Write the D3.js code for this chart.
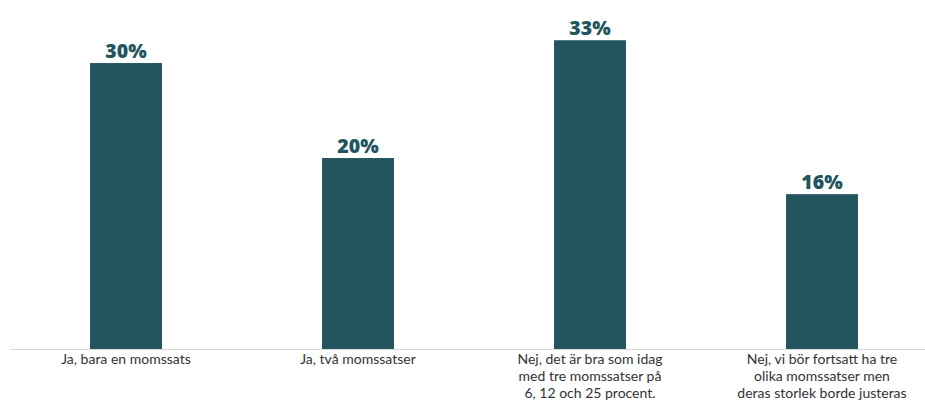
<!DOCTYPE html>
<html lang="sv">
<head>
<meta charset="UTF-8">
<title>Momssatser</title>
<style>
  body { margin: 0; background: #fff; }
  svg { display: block; }
</style>
</head>
<body>
<div id="chart"></div>
<script src="https://d3js.org/d3.v7.min.js"></script>
<script>
// data (labels as printed)
const categories = [
  ["Ja, bara en momssats"],
  ["Ja, två momssatser"],
  ["Nej, det är bra som idag", "med tre momssatser på", "6, 12 och 25 procent."],
  ["Nej, vi bör fortsatt ha tre", "olika momssatser men", "deras storlek borde justeras"]
];
const values = [30.1, 20.1, 32.5, 16.3];
const valueLabels = ["30%", "20%", "33%", "16%"];

const width = 925, height = 403;
const baseY = 349;

const svg = d3.select("#chart").append("svg")
  .attr("width", width)
  .attr("height", height);

const x = d3.scaleBand()
  .domain(d3.range(values.length))
  .range([10, 938])
  .paddingInner(0.69)
  .paddingOuter(0.345);

const y = d3.scaleLinear()
  .domain([0, 35])
  .range([baseY, 16.5]);

// baseline
svg.append("line")
  .attr("x1", 10).attr("x2", width)
  .attr("y1", baseY + 0.5).attr("y2", baseY + 0.5)
  .attr("stroke", "#d9d9d9")
  .attr("stroke-width", 1);

svg.selectAll("rect.bar")
  .data(values)
  .join("rect")
  .attr("class", "bar")
  .attr("x", (d, i) => x(i))
  .attr("y", d => y(d))
  .attr("width", x.bandwidth())
  .attr("height", d => baseY - y(d))
  .attr("fill", "#22555d");

svg.selectAll("text.val")
  .data(values)
  .join("text")
  .attr("class", "val")
  .attr("x", (d, i) => x(i) + x.bandwidth() / 2)
  .attr("y", d => y(d) - 5)
  .attr("text-anchor", "middle")
  .attr("font-family", "'Open Sans', sans-serif")
  .attr("font-weight", 800)
  .attr("font-size", 19.5)
  .attr("fill", "#22555d")
  .text((d, i) => valueLabels[i]);

const cat = svg.selectAll("text.cat")
  .data(categories)
  .join("text")
  .attr("class", "cat")
  .attr("text-anchor", "middle")
  .attr("font-family", "Lato, sans-serif")
  .attr("font-size", 14)
  .attr("fill", "#333");

cat.selectAll("tspan")
  .data((d, i) => d.map(t => ({ t, i })))
  .join("tspan")
  .attr("x", d => x(d.i) + x.bandwidth() / 2)
  .attr("y", (d, j) => 364 + j * 17)
  .text(d => d.t);
</script>
</body>
</html>
